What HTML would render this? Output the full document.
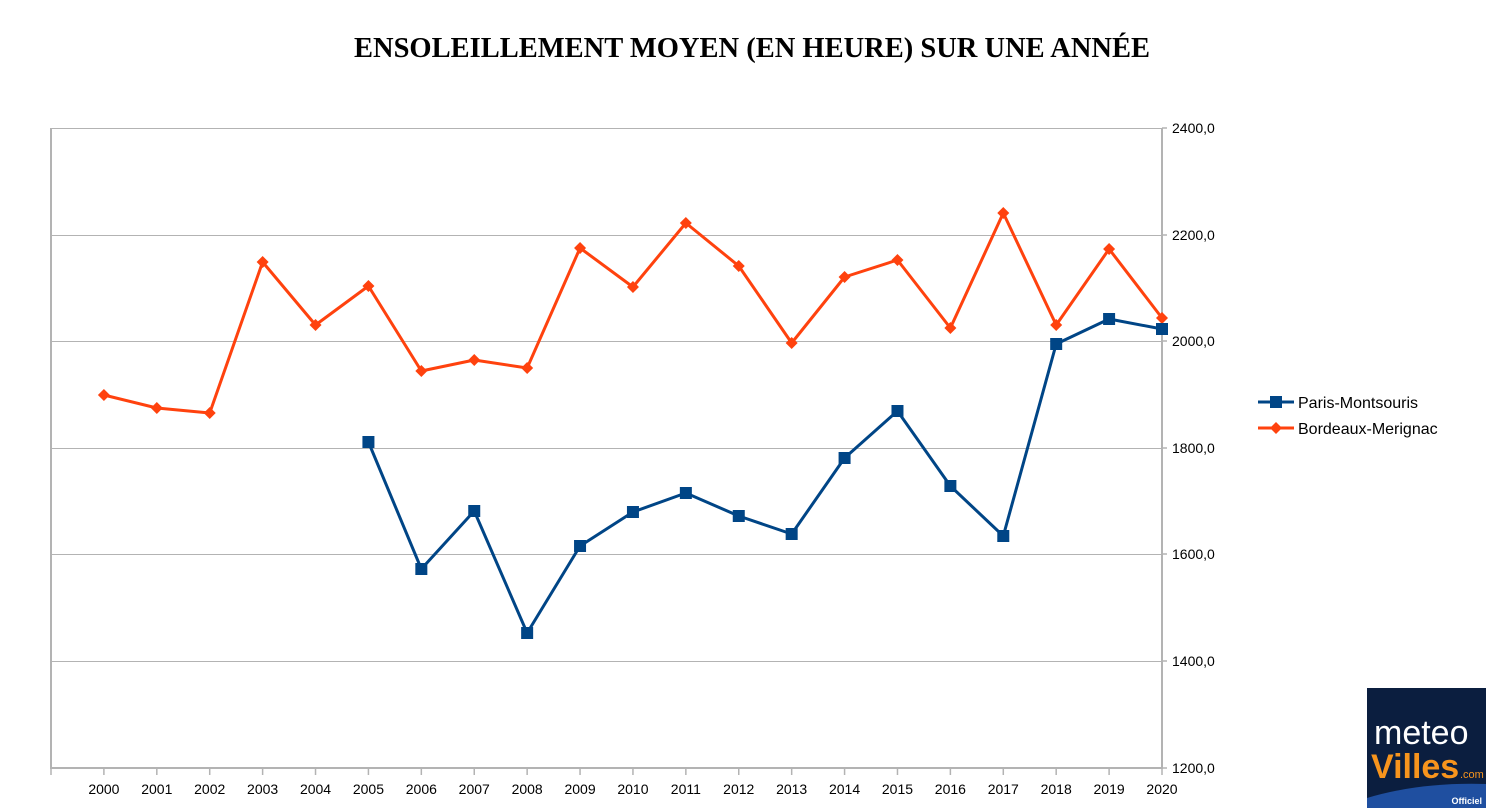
<!DOCTYPE html>
<html><head><meta charset="utf-8"><style>
html,body{margin:0;padding:0;background:#fff;}
svg{display:block;}
</style></head><body>
<svg width="1486" height="808" viewBox="0 0 1486 808" xmlns="http://www.w3.org/2000/svg" font-family="Liberation Sans, sans-serif">
<rect width="1486" height="808" fill="#fff"/>
<text x="752" y="57" text-anchor="middle" font-family="Liberation Serif, serif" font-weight="bold" font-size="28.5">ENSOLEILLEMENT MOYEN (EN HEURE) SUR UNE ANNÉE</text>
<g stroke="#b3b3b3" stroke-width="1">
<line x1="51" y1="128.5" x2="1162" y2="128.5"/>
<line x1="51" y1="235.5" x2="1162" y2="235.5"/>
<line x1="51" y1="341.5" x2="1162" y2="341.5"/>
<line x1="51" y1="448.5" x2="1162" y2="448.5"/>
<line x1="51" y1="554.5" x2="1162" y2="554.5"/>
<line x1="51" y1="661.5" x2="1162" y2="661.5"/>
</g>
<g stroke="#b3b3b3" stroke-width="2" fill="none">
<line x1="51" y1="128" x2="51" y2="768"/>
<line x1="1162" y1="128" x2="1162" y2="768"/>
<line x1="50" y1="768" x2="1163" y2="768"/>
</g>
<g stroke="#b3b3b3" stroke-width="1.5" id="ticks"></g>
<g font-size="14" fill="#000" id="labels"></g>
<polyline id="red" fill="none" stroke="#ff420e" stroke-width="3" stroke-linejoin="round"/>
<polyline id="blue" fill="none" stroke="#004586" stroke-width="3" stroke-linejoin="round"/>
<g id="redm" fill="#ff420e"></g>
<g id="bluem" fill="#004586"></g>
<line x1="1258" y1="402" x2="1294" y2="402" stroke="#004586" stroke-width="3"/>
<rect x="1270" y="396" width="12" height="12" fill="#004586"/>
<line x1="1258" y1="428" x2="1294" y2="428" stroke="#ff420e" stroke-width="3"/>
<polygon points="1276,422 1282,428 1276,434 1270,428" fill="#ff420e"/>
<text x="1298" y="408" font-size="16">Paris-Montsouris</text>
<text x="1298" y="434" font-size="16">Bordeaux-Merignac</text>
<g>
<rect x="1367" y="688" width="119" height="120" fill="#0b1e3f"/>
<path d="M1367 798 Q1420 782 1486 784 L1486 808 L1367 808 Z" fill="#1f4fa0"/>
<text x="1374" y="744" font-size="34" fill="#fff">meteo</text>
<text x="1371" y="778" font-size="34" font-weight="bold" fill="#f7941d">Villes</text>
<text x="1460" y="778" font-size="11" fill="#f7941d">.com</text>
<text x="1482" y="804" font-size="9" font-weight="bold" fill="#fff" text-anchor="end">Officiel</text>
</g>
</svg>
<script>
var ns="http://www.w3.org/2000/svg";
function el(t,a,p){var e=document.createElementNS(ns,t);for(var k in a)e.setAttribute(k,a[k]);document.getElementById(p).appendChild(e);return e;}
var step=(1162-51)/21;
for(var i=0;i<=21;i++){var x=51+i*step;el("line",{x1:x,y1:768,x2:x,y2:775},"ticks");}
for(var i=0;i<21;i++){var x=51+(i+1)*step;var t=el("text",{x:x,y:794,"text-anchor":"middle"},"labels");t.textContent=2000+i;}
var yl=[[128,"2400,0"],[235,"2200,0"],[341,"2000,0"],[448,"1800,0"],[554,"1600,0"],[661,"1400,0"],[768,"1200,0"]];
yl.forEach(function(v){el("line",{x1:1162,y1:v[0],x2:1167,y2:v[0]},"ticks");var t=el("text",{x:1172,y:v[0]+5},"labels");t.textContent=v[1];});
var red=[395,408,413,262,325,286,371,360,368,248,287,223,266,343,277,260,328,213,325,249,318];
var blue=[null,null,null,null,null,442,569,511,633,546,512,493,516,534,458,411,486,536,344,319,329];
var rp=[],bp=[];
red.forEach(function(y,i){var x=51+(i+1)*step;rp.push(x+","+y);el("polygon",{points:x+","+(y-6)+" "+(x+6)+","+y+" "+x+","+(y+6)+" "+(x-6)+","+y},"redm");});
blue.forEach(function(y,i){if(y===null)return;var x=51+(i+1)*step;bp.push(x+","+y);el("rect",{x:x-6,y:y-6,width:12,height:12},"bluem");});
document.getElementById("red").setAttribute("points",rp.join(" "));
document.getElementById("blue").setAttribute("points",bp.join(" "));
</script>
</body></html>
